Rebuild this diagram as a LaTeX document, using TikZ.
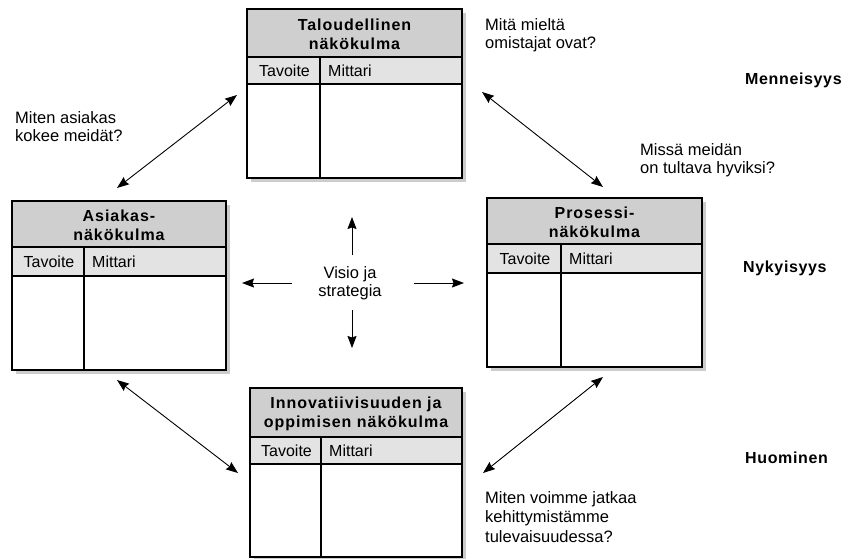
\documentclass[tikz,border=0pt]{standalone}
\usepackage{fontspec}
\setmainfont{Liberation Sans}
\usetikzlibrary{arrows.meta}
\definecolor{hdrc}{gray}{0.81}
\definecolor{subc}{gray}{0.89}
\definecolor{shadowc}{gray}{0.80}
\tikzset{
  boxframe/.style={draw=black, line width=1.2pt, inner sep=0pt, outer sep=0pt},
  boxline/.style={draw=black, line width=1.2pt},
  titletext/.style={inner sep=0pt, align=center, font={\fontsize{16}{19}\selectfont\bfseries\addfontfeature{LetterSpace=6}}},
  celltext/.style={inner sep=0pt, font={\fontsize{16}{19}\selectfont}},
  qtext/.style={inner sep=0pt, align=left, font={\fontsize{16.5}{18}\selectfont}},
  timetext/.style={inner sep=0pt, anchor=west, font={\fontsize{16}{18}\selectfont\bfseries\addfontfeature{LetterSpace=4}}},
  dbl/.style={line width=0.9pt, {Stealth[length=12pt,width=9pt,inset=1.5pt]}-{Stealth[length=12pt,width=9pt,inset=1.5pt]}},
  sgl/.style={line width=1pt, -{Stealth[length=12pt,width=9pt,inset=1.5pt]}},
}
% #1 name, #2 x1, #3 y1, #4 x2, #5 y2, #6 header bottom, #7 subheader bottom, #8 divider x, #9 title
\newcommand\perspbox[9]{%
  \fill[shadowc] (#2+4,#3+4) rectangle (#4+4,#5+4);
  \fill[white] (#2,#3) rectangle (#4,#5);
  \fill[hdrc] (#2,#3) rectangle (#4,#6);
  \fill[subc] (#2,#6) rectangle (#4,#7);
  \node[boxframe, anchor=north west, minimum width={(#4-#2)*1pt}, minimum height={(#5-#3)*1pt}] (#1) at (#2,#3) {};
  \draw[boxline] (#2,#6) -- (#4,#6);
  \draw[boxline] (#2,#7) -- (#4,#7);
  \draw[boxline] (#8,#6) -- (#8,#5);
  \node[titletext] (#1-title) at ({(#2+#4)/2},{(#3+#6)/2+1}) {#9};
  \node[celltext] (#1-tav) at ({(#2+#8)/2+1},{(#6+#7)/2}) {Tavoite};
  \node[celltext, anchor=west] (#1-mit) at (#8+8,{(#6+#7)/2}) {Mittari};
}
\begin{document}
\begin{tikzpicture}[x=1pt,y=-1pt]
\useasboundingbox (0,0) rectangle (850,558);
\fill[white] (0,0) rectangle (850,558);

\perspbox{tal}{247}{9}{462}{178}{57}{84}{320}{Taloudellinen\\näkökulma}
\perspbox{asi}{12}{201}{226}{370}{247}{276}{84}{Asiakas-\\näkökulma}
\perspbox{pro}{487}{198}{702}{367}{244}{273}{561}{Prosessi-\\näkökulma}
\perspbox{inn}{250}{388}{462}{557}{437}{464}{321}{Innovatiivisuuden ja\\oppimisen näkökulma}

% centre
\node[qtext, align=center] (vis) at (350,283) {Visio ja\\strategia};
\coordinate (vup) at (352,217);
\coordinate (vdown) at (352,348);
\coordinate (vleft) at (242,283);
\coordinate (vright) at (464,283);
\draw[sgl] (352,255) -- (vup);
\draw[sgl] (352,310) -- (vdown);
\draw[sgl] (292,283) -- (vleft);
\draw[sgl] (414,283) -- (vright);

% diagonal double arrows
\coordinate (tl1) at (237,95);  \coordinate (tl2) at (117,188);
\coordinate (tr1) at (482,92);  \coordinate (tr2) at (603,187);
\coordinate (bl1) at (117,380); \coordinate (bl2) at (238,473);
\coordinate (br1) at (603,377); \coordinate (br2) at (483,473);
\draw[dbl] (tl1) -- (tl2);
\draw[dbl] (tr1) -- (tr2);
\draw[dbl] (bl1) -- (bl2);
\draw[dbl] (br1) -- (br2);

% questions
\node[qtext, anchor=west] (q1) at (485,35) {Mitä mieltä\\omistajat ovat?};
\node[qtext, anchor=west] (q2) at (640,160) {Missä meidän\\on tultava hyviksi?};
\node[qtext, anchor=west] (q3) at (15,127) {Miten asiakas\\kokee meidät?};
\node[qtext, anchor=west, font={\fontsize{16.5}{19.5}\selectfont}] (q4) at (485,517) {Miten voimme jatkaa\\kehittymistämme\\tulevaisuudessa?};

% time labels
\node[timetext] (t1) at (745,80) {Menneisyys};
\node[timetext] (t2) at (743,268) {Nykyisyys};
\node[timetext] (t3) at (745,458) {Huominen};
\end{tikzpicture}
\end{document}
